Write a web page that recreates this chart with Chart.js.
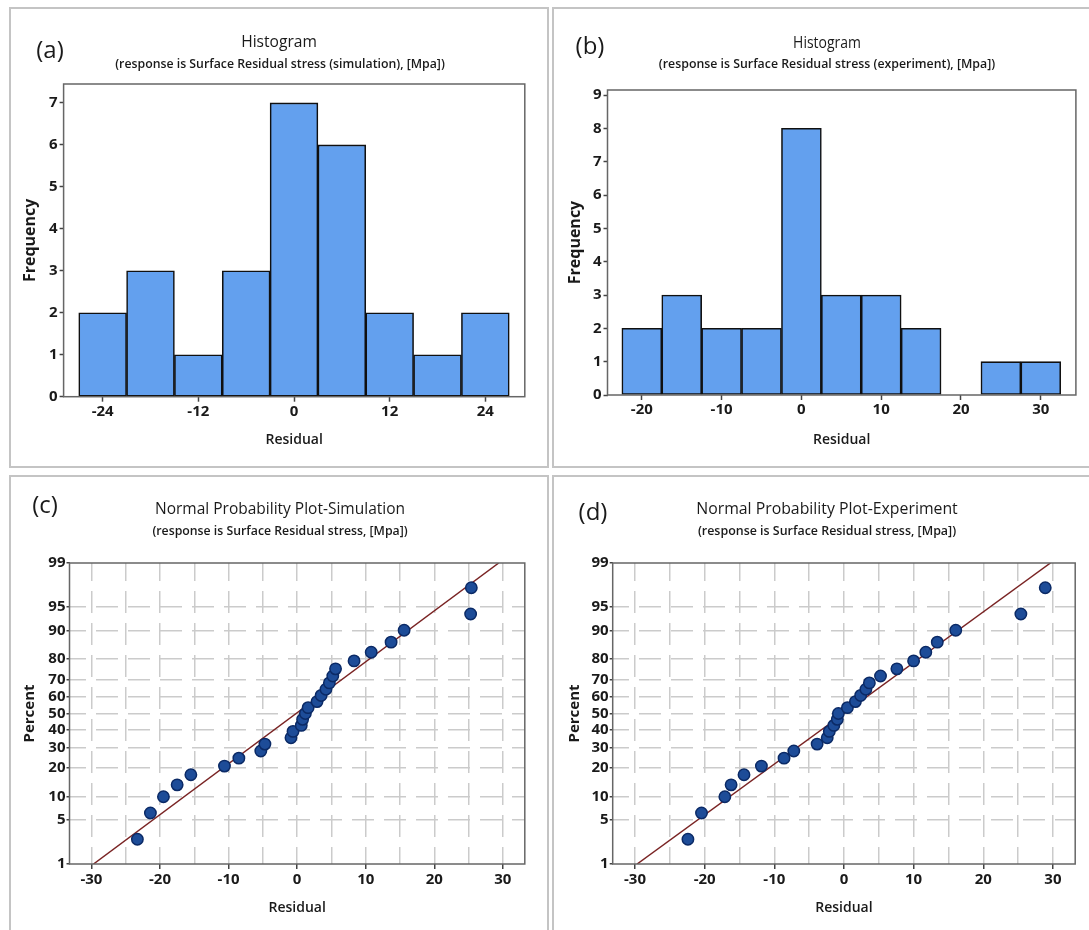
<!DOCTYPE html>
<html><head><meta charset="utf-8">
<script src="https://cdn.jsdelivr.net/npm/chart.js@4.4.1/dist/chart.umd.min.js"></script>
<style>
html,body{margin:0;padding:0;background:#fff;}
body{width:1089px;height:930px;position:relative;overflow:hidden;font-family:'Open Sans',sans-serif;color:#1a1a1a;}
.panel{position:absolute;box-sizing:border-box;border:2px solid #c4c4c4;}
canvas{position:absolute;}
.txt{position:absolute;white-space:nowrap;line-height:1;transform:translate(-50%,-50%);}
.lbl{font-size:24px;}
.t1{font-size:16px;}
.t2{font-size:12px;font-weight:600;}
</style></head><body>
<div class="panel" style="left:9px;top:7px;width:540px;height:461px"></div>
<div class="panel" style="left:552px;top:7px;width:540px;height:461px"></div>
<div class="panel" style="left:9px;top:475px;width:540px;height:470px"></div>
<div class="panel" style="left:552px;top:475px;width:540px;height:470px"></div>

<canvas id="cA" width="538" height="459" style="left:10px;top:8px"></canvas>
<canvas id="cB" width="536" height="459" style="left:553px;top:8px"></canvas>
<canvas id="cC" width="538" height="454" style="left:10px;top:476px"></canvas>
<canvas id="cD" width="536" height="454" style="left:553px;top:476px"></canvas>

<div class="txt lbl" style="left:50px;top:49px">(a)</div>
<div class="txt lbl" style="left:590px;top:45px">(b)</div>
<div class="txt lbl" style="left:45px;top:504px">(c)</div>
<div class="txt lbl" style="left:593px;top:511px">(d)</div>

<div class="txt t1 fit" data-w="76" style="left:279px;top:41px">Histogram</div>
<div class="txt t2 fit" data-w="330" style="left:279.5px;top:63.5px">(response is Surface Residual stress (simulation), [Mpa])</div>
<div class="txt t1 fit" data-w="68" style="left:827px;top:42px">Histogram</div>
<div class="txt t2 fit" data-w="336" style="left:827px;top:63.5px">(response is Surface Residual stress (experiment), [Mpa])</div>
<div class="txt t1 fit" data-w="250" style="left:280px;top:507.5px">Normal Probability Plot-Simulation</div>
<div class="txt t2 fit" data-w="255" style="left:279.5px;top:531px">(response is Surface Residual stress, [Mpa])</div>
<div class="txt t1 fit" data-w="261" style="left:827px;top:507.5px">Normal Probability Plot-Experiment</div>
<div class="txt t2 fit" data-w="258" style="left:827px;top:531px">(response is Surface Residual stress, [Mpa])</div>

<script>
// ---------------- DATA ----------------
const binCentersSim = [-24, -18, -12, -6, 0, 6, 12, 18, 24];
const countsSim     = [2, 3, 1, 3, 7, 6, 2, 1, 2];
const binCentersExp = [-20, -15, -10, -5, 0, 5, 10, 15, 20, 25, 30];
const countsExp     = [2, 3, 2, 2, 8, 3, 3, 2, 0, 1, 1];

const histXTicksSim = [-24, -12, 0, 12, 24];
const histYTicksSim = [0, 1, 2, 3, 4, 5, 6, 7];
const histXTicksExp = [-20, -10, 0, 10, 20, 30];
const histYTicksExp = [0, 1, 2, 3, 4, 5, 6, 7, 8, 9];

const residSim = [-23.3, -21.4, -19.5, -17.5, -15.5, -10.6, -8.5, -5.3, -4.7, -0.9, -0.6, 0.6, 0.8, 1.2, 1.6,
                  2.9, 3.5, 4.2, 4.7, 5.2, 5.6, 8.3, 10.8, 13.7, 15.6, 25.3, 25.4];
const residExp = [-22.4, -20.45, -17.1, -16.2, -14.35, -11.85, -8.6, -7.2, -3.85, -2.4, -2.1, -1.45, -0.95, -0.8, 0.5,
                  1.65, 2.4, 3.15, 3.65, 5.25, 7.6, 10.0, 11.75, 13.4, 16.05, 25.4, 28.9];
const plotPercent = [2.6, 6.2, 9.9, 13.5, 17.2, 20.8, 24.5, 28.1, 31.8, 35.4, 39.1, 42.7, 46.4, 50.0, 53.6,
                     57.3, 61.0, 64.6, 68.2, 71.9, 75.5, 79.2, 82.8, 86.5, 90.1, 93.8, 97.4];
const fitResidSim = [-29.7, 29.4];
const fitResidExp = [-29.7, 29.65];
const fitPercent  = [1, 99];

const probXTicks = [-30, -25, -20, -15, -10, -5, 0, 5, 10, 15, 20, 25, 30];
const probYTicks = [1, 5, 10, 20, 30, 40, 50, 60, 70, 80, 90, 95, 99];

// ---------------- helpers ----------------
function invNorm(p) {
  const a = [-3.969683028665376e+01, 2.209460984245205e+02, -2.759285104469687e+02, 1.383577518672690e+02, -3.066479806614716e+01, 2.506628277459239e+00];
  const b = [-5.447609879822406e+01, 1.615858368580409e+02, -1.556989798598866e+02, 6.680131188771972e+01, -1.328068155288572e+01];
  const c = [-7.784894002430293e-03, -3.223964580411365e-01, -2.400758296977150e+00, -2.549732539343734e+00, 4.374664141464968e+00, 2.938163982698783e+00];
  const d = [7.784695709041462e-03, 3.224671290700398e-01, 2.445134137142996e+00, 3.754408661907416e+00];
  const pl = 0.02425, ph = 1 - pl;
  let q, r;
  if (p < pl) { q = Math.sqrt(-2 * Math.log(p));
    return (((((c[0]*q+c[1])*q+c[2])*q+c[3])*q+c[4])*q+c[5]) / ((((d[0]*q+d[1])*q+d[2])*q+d[3])*q+1); }
  if (p <= ph) { q = p - 0.5; r = q*q;
    return (((((a[0]*r+a[1])*r+a[2])*r+a[3])*r+a[4])*r+a[5])*q / (((((b[0]*r+b[1])*r+b[2])*r+b[3])*r+b[4])*r+1); }
  q = Math.sqrt(-2 * Math.log(1 - p));
  return -(((((c[0]*q+c[1])*q+c[2])*q+c[3])*q+c[4])*q+c[5]) / ((((d[0]*q+d[1])*q+d[2])*q+d[3])*q+1);
}
const Z_MIN = invNorm(0.01), Z_MAX = invNorm(0.99);

const FONT = "'Open Sans', sans-serif";
const tickFont = {family: FONT, size: 15, weight: 'bold'};
const INK = '#1a1a1a';

const framePlugin = {
  id: 'frame',
  afterDatasetsDraw(chart, args, opts) {
    const {ctx, chartArea: a} = chart;
    ctx.save();
    ctx.strokeStyle = opts.color || '#666';
    ctx.lineWidth = opts.width || 1.5;
    ctx.strokeRect(a.left, a.top, a.right - a.left, a.bottom - a.top);
    ctx.restore();
  }
};

function layoutOpts(W, H, area, xAxisH) {
  return {padding: {left: 0, top: area.t, right: W - area.r, bottom: H - area.b - xAxisH}};
}

function histChart(id, W, H, area, centers, counts, xmin, xmax, xticks, ymax, yticks, xTitleY, yTitleX) {
  const xAxisH = 62;
  const xTitleFont = {family: FONT, size: 14, weight: '600'};
  const yTitleFont = {family: FONT, size: 16, weight: 'bold'};
  const xLH = 14 * 1.2, yLH = 16 * 1.2;
  new Chart(document.getElementById(id), {
    type: 'bar',
    data: {datasets: [{
      data: centers.map((c, i) => ({x: c, y: counts[i]})),
      backgroundColor: '#63a0ee', borderColor: '#101010', borderWidth: 1.6,
      borderSkipped: false, categoryPercentage: 1.0, barPercentage: 1.0
    }]},
    options: {
      responsive: false, animation: false, events: [],
      layout: layoutOpts(W, H, area, xAxisH),
      plugins: {legend: {display: false}, tooltip: {enabled: false}, frame: {color: '#666', width: 1.5}},
      scales: {
        x: {type: 'linear', min: xmin, max: xmax, offset: false,
          afterBuildTicks: s => { s.ticks = xticks.map(v => ({value: v})); },
          afterFit: s => { s.height = xAxisH; },
          grid: {display: true, drawOnChartArea: false, offset: false, tickLength: 5, tickColor: '#444', tickWidth: 1.5},
          border: {display: false},
          ticks: {font: tickFont, color: INK, padding: 1, maxRotation: 0, autoSkip: false},
          title: {display: true, text: 'Residual', font: xTitleFont, color: INK,
                  padding: {top: 0, bottom: (area.b + xAxisH) - xTitleY - xLH / 2}}
        },
        y: {type: 'linear', min: 0, max: ymax,
          afterBuildTicks: s => { s.ticks = yticks.map(v => ({value: v})); },
          afterFit: s => { s.width = area.l; },
          grid: {display: true, drawOnChartArea: false, tickLength: 4, tickColor: '#444', tickWidth: 1.5},
          border: {display: false},
          ticks: {font: tickFont, color: INK, padding: 2, autoSkip: false},
          title: {display: true, text: 'Frequency', font: yTitleFont, color: INK,
                  padding: {top: yTitleX - yLH / 2, bottom: 0}}
        }
      }
    },
    plugins: [framePlugin]
  });
}

function probChart(id, W, H, area, resid, fitResid, xTitleY, yTitleX) {
  const xAxisH = 50;
  const xTitleFont = {family: FONT, size: 14, weight: '600'};
  const yTitleFont = {family: FONT, size: 15, weight: 'bold'};
  const xLH = 14 * 1.2, yLH = 15 * 1.2;
  const gridCol = '#cbcbcb';
  new Chart(document.getElementById(id), {
    type: 'scatter',
    data: {datasets: [
      {data: resid.map((r, i) => ({x: r, y: invNorm(plotPercent[i] / 100)})),
       pointRadius: 5.7, pointBackgroundColor: '#1d4c98', pointBorderColor: '#0b2a66', pointBorderWidth: 1.5, showLine: false},
      {data: fitResid.map((r, i) => ({x: r, y: invNorm(fitPercent[i] / 100)})),
       showLine: true, pointRadius: 0, borderColor: '#7a2424', borderWidth: 1.5}
    ]},
    options: {
      responsive: false, animation: false, events: [],
      layout: layoutOpts(W, H, area, xAxisH),
      plugins: {legend: {display: false}, tooltip: {enabled: false}, frame: {color: '#666', width: 1.5}},
      scales: {
        x: {type: 'linear', min: -33.2, max: 33.2,
          afterBuildTicks: s => { s.ticks = probXTicks.map(v => ({value: v})); },
          afterFit: s => { s.height = xAxisH; },
          grid: {display: true, color: gridCol, lineWidth: 1.5, tickLength: 5, tickWidth: 1.5,
                 tickColor: c => (c.tick && c.tick.value % 10 === 0) ? '#444' : 'rgba(0,0,0,0)'},
          border: {display: false, dash: [22, 10], dashOffset: 4},
          ticks: {font: tickFont, color: INK, padding: 2, maxRotation: 0, autoSkip: false,
                  callback: v => (v % 10 === 0 ? String(v) : '')},
          title: {display: true, text: 'Residual', font: xTitleFont, color: INK,
                  padding: {top: 0, bottom: (area.b + xAxisH) - xTitleY - xLH / 2}}
        },
        y: {type: 'linear', min: Z_MIN, max: Z_MAX,
          afterBuildTicks: s => { s.ticks = probYTicks.map(p => ({value: invNorm(p / 100)})); },
          afterFit: s => { s.width = area.l; },
          grid: {display: true, lineWidth: 1.5, tickLength: 3, tickWidth: 1.5, tickColor: '#444',
                 color: c => (c.index === 0 || c.index === probYTicks.length - 1) ? 'rgba(0,0,0,0)' : gridCol},
          border: {display: false, dash: [22, 10], dashOffset: 6},
          ticks: {font: tickFont, color: INK, padding: 1, autoSkip: false,
                  callback: (v, i) => String(probYTicks[i])},
          title: {display: true, text: 'Percent', font: yTitleFont, color: INK,
                  padding: {top: yTitleX - yLH / 2, bottom: 0}}
        }
      }
    },
    plugins: [framePlugin]
  });
}

histChart('cA', 538, 459, {l: 53.6, r: 514.8, t: 76, b: 388.7}, binCentersSim, countsSim,
          -28.9, 28.95, histXTicksSim, 7.45, histYTicksSim, 432, 20);
histChart('cB', 536, 459, {l: 54.5, r: 522.9, t: 82, b: 387}, binCentersExp, countsExp,
          -24.3, 34.4, histXTicksExp, 9.15, histYTicksExp, 432, 22);
probChart('cC', 538, 454, {l: 59.5, r: 514.8, t: 87, b: 388}, residSim, fitResidSim, 432, 20);
probChart('cD', 536, 454, {l: 59.7, r: 522.2, t: 87, b: 388}, residExp, fitResidExp, 432, 22);

document.querySelectorAll('.fit').forEach(el => {
  const w = +el.dataset.w, cur = el.offsetWidth;
  if (cur > 0) el.style.transform = 'translate(-50%,-50%) scaleX(' + (w / cur).toFixed(3) + ')';
});
</script>
</body></html>
